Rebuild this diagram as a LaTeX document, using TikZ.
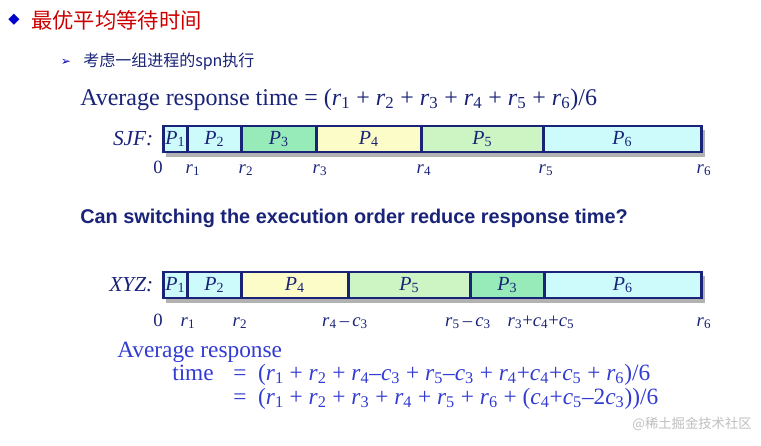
\documentclass[tikz,border=0pt]{standalone}
\usepackage{fontspec}
\setmainfont{Liberation Serif}
\setsansfont{Liberation Sans}
\newfontfamily\cjk{Noto Sans CJK SC}
\newfontfamily\dv{DejaVu Sans}
\newcommand\rv[1]{\textit{r}\textsubscript{#1}}
\newcommand\cv[1]{\textit{c}\textsubscript{#1}}
\newcommand\pv[1]{\textit{P}\textsubscript{#1}}
\begin{document}
\begin{tikzpicture}[x=0.75pt,y=-0.75pt,
  seg/.style={draw={rgb,255:red,25;green,35;blue,120},line width=2pt,minimum height=19.5pt,inner sep=0pt,anchor=west,font=\fontsize{15}{15}\selectfont,text={rgb,255:red,25;green,35;blue,120}},
  lab/.style={font=\fontsize{14}{14}\selectfont,text={rgb,255:red,25;green,35;blue,120},anchor=base},
  blu/.style={font=\fontsize{17.5}{17.5}\selectfont,text={rgb,255:red,50;green,60;blue,210},anchor=base west,inner sep=0pt,text depth=1pt,text height=11pt}]
\definecolor{nv}{RGB}{25,35,120}
\definecolor{cy}{RGB}{205,250,250}
\definecolor{gr}{RGB}{150,235,185}
\definecolor{yl}{RGB}{252,252,200}
\definecolor{lg}{RGB}{205,245,195}
\useasboundingbox (0,0) rectangle (761,446);
\fill[white] (0,0) rectangle (761,446);
% title
\node (bul) at (14,20) {\dv\color{blue!80!black}\fontsize{11}{11}\selectfont ◆};
\node[anchor=west,inner sep=0pt] (title) at (31,20) {\cjk\color{red!80!black}\fontsize{16}{16}\selectfont 最优平均等待时间};
\node (arr) at (66,62) {\dv\color{blue!70!black}\fontsize{9}{9}\selectfont ➢};
\node[anchor=west,inner sep=0pt] (sub) at (83,62) {\cjk\color{nv}\fontsize{12}{12}\selectfont 考虑一组进程的spn执行};
\node[anchor=base west,inner sep=0pt,text=nv,font=\fontsize{18}{18}\selectfont] (avg) at (80,105) {Average response time = (\rv1 + \rv2 + \rv3 + \rv4 + \rv5 + \rv6)/6};
% SJF bar
\fill[black!30] (166,130) rectangle (705,157);
\node[anchor=east,text=nv,font=\fontsize{16}{16}\selectfont\itshape] (sjf) at (158,139) {SJF:};
\foreach \a/\b/\c/\p/\n in {162/186/cy/1/s1,186/240/cy/2/s2,240/315/gr/3/s3,315/420/yl/4/s4,420/542/lg/5/s5,542/700/cy/6/s6}{
  \node[seg,fill=\c,minimum width={(\b-\a)*0.75pt}] (\n) at (\a,139) {\pv{\p}};}
\foreach \x/\t/\n in {158/0/a0,193/\rv1/a1,246/\rv2/a2,320/\rv3/a3,424/\rv4/a4,546/\rv5/a5,704/\rv6/a6}{
  \node[lab] (\n) at (\x,173) {\t};}
\node[anchor=base west,inner sep=0pt,text=nv,font=\sffamily\bfseries\fontsize{14.9}{14.9}\selectfont] (q) at (80,223) {Can switching the execution order reduce response time?};
% XYZ bar
\fill[black!30] (166,276) rectangle (705,303);
\node[anchor=east,text=nv,font=\fontsize{16}{16}\selectfont\itshape] (xyz) at (158,285) {XYZ:};
\foreach \a/\b/\c/\p/\n in {162/186/cy/1/x1,186/240/cy/2/x2,240/347/yl/4/x4,347/469/lg/5/x5,469/543/gr/3/x3,543/700/cy/6/x6}{
  \node[seg,fill=\c,minimum width={(\b-\a)*0.75pt}] (\n) at (\a,285) {\pv{\p}};}
\foreach \x/\t/\n in {158/0/b0,188/\rv1/b1,240/\rv2/b2,345/\rv4\,–\,\cv3/b3,468/\rv5\,–\,\cv3/b4,541/\rv3+\cv4+\cv5/b5,704/\rv6/b6}{
  \node[lab] (\n) at (\x,326) {\t};}
\node[blu] (l1) at (117,357) {Average response};
\node[blu] (l2) at (172,380) {time};
\node[blu] (l3) at (233,380) {=\ \ (\rv1 + \rv2 + \rv4–\cv3 + \rv5–\cv3 + \rv4+\cv4+\cv5 + \rv6)/6};
\node[blu] (l4) at (233,404) {=\ \ (\rv1 + \rv2 + \rv3 + \rv4 + \rv5 + \rv6 + (\cv4+\cv5–2\cv3))/6};
\node[anchor=east,inner sep=0pt] (wm) at (752,424) {\cjk\color{black!25}\fontsize{10}{10}\selectfont @稀土掘金技术社区};
\end{tikzpicture}
\end{document}
